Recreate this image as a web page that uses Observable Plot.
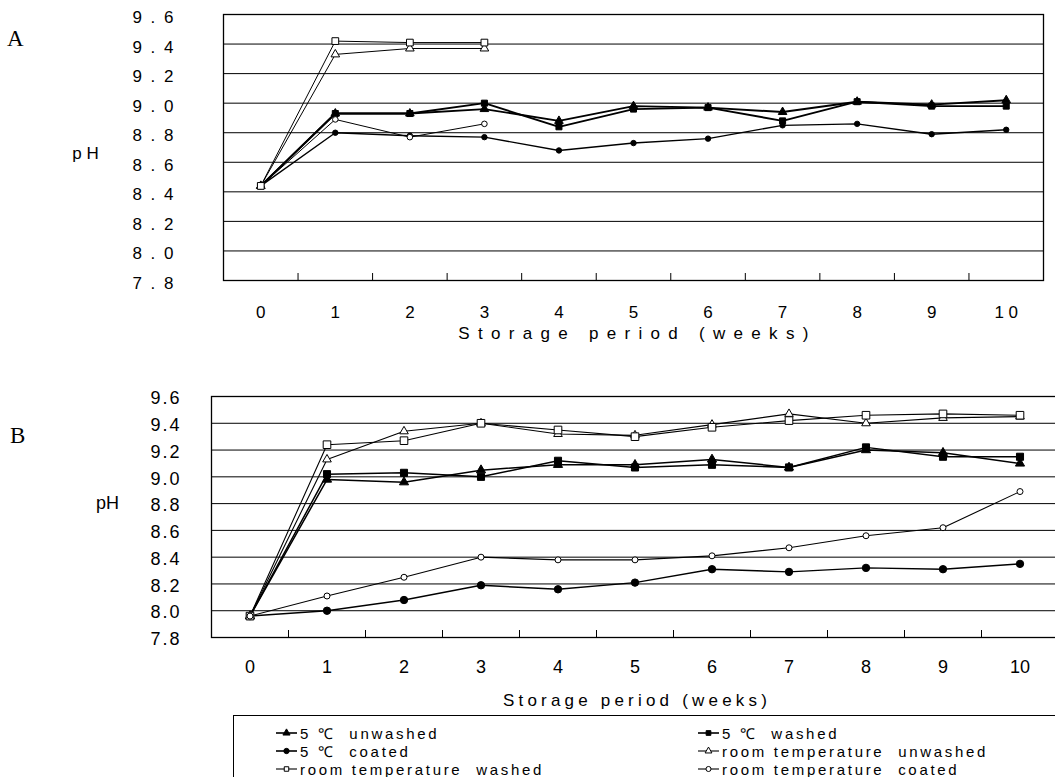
<!DOCTYPE html>
<html><head><meta charset="utf-8">
<script src="https://cdn.jsdelivr.net/npm/d3@7"></script>
<script src="https://cdn.jsdelivr.net/npm/@observablehq/plot@0.6"></script>
<style>
html,body{margin:0;padding:0;background:#fff;overflow:hidden;}
#root{position:relative;width:1055px;height:777px;overflow:hidden;font-family:"Liberation Sans",Arial,sans-serif;color:#000;}
.panel{position:absolute;left:0;max-width:none !important;}
.letter{position:absolute;font-family:"Liberation Serif","DejaVu Serif",serif;font-size:23px;line-height:1;}
#legend{position:absolute;left:233px;top:715px;width:830px;height:62px;border-top:1.5px solid #000;border-left:1px solid #000;}
.li{position:absolute;height:16px;display:flex;align-items:center;white-space:pre;font-size:15px;letter-spacing:2.7px;}
.li svg{margin-right:3px;}
</style></head><body><div id="root"></div>
<script>
// ---------- data ----------
const weeks = [0, 1, 2, 3, 4, 5, 6, 7, 8, 9, 10];
const yTicks = [9.6, 9.4, 9.2, 9.0, 8.8, 8.6, 8.4, 8.2, 8.0, 7.8];
const gridLevels = [9.4, 9.2, 9.0, 8.8, 8.6, 8.4, 8.2, 8.0];
const xTitle = "Storage period (weeks)";
const yTitleA = "p H";
const yTitleB = "pH";

// Panel A
const a5Unwashed = [8.44, 8.93, 8.93, 8.96, 8.88, 8.98, 8.97, 8.94, 9.01, 8.99, 9.02];
const a5Washed   = [8.44, 8.93, 8.93, 9.00, 8.84, 8.96, 8.97, 8.88, 9.01, 8.98, 8.98];
const a5Coated   = [8.44, 8.80, 8.78, 8.77, 8.68, 8.73, 8.76, 8.85, 8.86, 8.79, 8.82];
const aRTUnwashed = [8.44, 9.33, 9.37, 9.37];
const aRTWashed   = [8.44, 9.42, 9.41, 9.41];
const aRTCoated   = [8.44, 8.89, 8.77, 8.86];

// Panel B
const b5Unwashed = [7.96, 8.98, 8.96, 9.05, 9.09, 9.09, 9.13, 9.07, 9.20, 9.18, 9.10];
const b5Washed   = [7.96, 9.02, 9.03, 9.00, 9.12, 9.07, 9.09, 9.07, 9.22, 9.15, 9.15];
const b5Coated   = [7.96, 8.00, 8.08, 8.19, 8.16, 8.21, 8.31, 8.29, 8.32, 8.31, 8.35];
const bRTUnwashed = [7.96, 9.13, 9.34, 9.40, 9.32, 9.31, 9.39, 9.47, 9.40, 9.44, 9.45];
const bRTWashed   = [7.96, 9.24, 9.27, 9.40, 9.35, 9.30, 9.37, 9.42, 9.46, 9.47, 9.46];
const bRTCoated   = [7.96, 8.11, 8.25, 8.40, 8.38, 8.38, 8.41, 8.47, 8.56, 8.62, 8.89];

const seriesNames = ["5 ℃  unwashed", "5 ℃  washed", "5 ℃  coated",
  "room temperature  unwashed", "room temperature  washed", "room temperature  coated"];

// ---------- styles (not data) ----------
const styleOf = {
  "5 ℃  unwashed": {symbol: "triangle", filled: true},
  "5 ℃  washed": {symbol: "square", filled: true},
  "5 ℃  coated": {symbol: "circle", filled: true},
  "room temperature  unwashed": {symbol: "triangle", filled: false},
  "room temperature  washed": {symbol: "square", filled: false},
  "room temperature  coated": {symbol: "circle", filled: false}
};

function rows(arr, name) { return arr.map((v, i) => ({week: weeks[i], pH: v, series: name})); }
const boundaries = weeks.slice(1).map(w => w - 0.5);

const dataA = [a5Unwashed, a5Washed, a5Coated, aRTUnwashed, aRTWashed, aRTCoated];
const dataB = [b5Unwashed, b5Washed, b5Coated, bRTUnwashed, bRTWashed, bRTCoated];

function makePanel(cfg) {
  const frameH = cfg.height - cfg.marginTop - cfg.marginBottom;
  const marks = [
    Plot.ruleY(gridLevels, {stroke: "#000", strokeWidth: 1}),
    Plot.frame({stroke: "#000", strokeWidth: 1.3}),
    Plot.ruleX(boundaries, {stroke: "#000", strokeWidth: 1, insetTop: frameH - 7}),
    Plot.axisY({ticks: yTicks, tickSize: 0, tickPadding: cfg.yPad, dy: cfg.yDy,
      tickFormat: cfg.yFormat, fontSize: cfg.yFont}),
    Plot.axisX({ticks: weeks, tickSize: 0, tickPadding: cfg.xPad,
      tickFormat: cfg.xFormat, fontSize: cfg.xFont}),
    Plot.text([xTitle], {text: d => d, frameAnchor: "bottom", lineAnchor: "middle", textAnchor: "middle",
      dy: cfg.titleDy, dx: cfg.titleDx, fontSize: cfg.titleFont}),
    Plot.text([cfg.yTitle], {text: d => d, frameAnchor: "left", lineAnchor: "middle", textAnchor: "middle",
      dx: cfg.pHdx, dy: cfg.pHdy, fontSize: cfg.pHFont})
  ];
  cfg.data.forEach((arr, i) => {
    const name = seriesNames[i];
    marks.push(Plot.line(rows(arr, name), {x: "week", y: "pH", stroke: "#000",
      strokeWidth: cfg.lineW[i], curve: "linear"}));
  });
  cfg.order.forEach(i => {
    const arr = cfg.data[i];
    const name = seriesNames[i];
    const st = styleOf[name];
    marks.push(Plot.dot(rows(arr, name), {x: "week", y: "pH", symbol: st.symbol,
      r: cfg.r[i], fill: st.filled ? "#000" : "#fff", stroke: "#000", strokeWidth: 1}));
  });
  const svg = Plot.plot({
    width: cfg.width, height: cfg.height,
    marginTop: cfg.marginTop, marginBottom: cfg.marginBottom,
    marginLeft: cfg.marginLeft, marginRight: cfg.marginRight,
    x: {domain: [-0.5, 10.5], label: null},
    y: {domain: [7.8, 9.6], label: null},
    style: {fontFamily: '"Liberation Sans", Arial, sans-serif', background: "transparent", color: "#000", overflow: "visible", maxWidth: "none"},
    marks
  });
  d3.select(svg).selectAll('g[aria-label="y-axis tick label"] text').style("letter-spacing", cfg.ySpacing + "px");
  d3.select(svg).selectAll("text").filter(function () { return this.textContent === xTitle; })
    .style("letter-spacing", cfg.titleSpacing + "px");
  return svg;
}

const root = document.getElementById("root");

const svgA = makePanel({
  data: dataA, width: 1055, height: 350, marginTop: 14, marginBottom: 70, marginLeft: 223, marginRight: 12,
  yPad: 48, yDy: 3, yFont: 17, ySpacing: 2, yFormat: d => d.toFixed(1).split("").join(" "),
  xPad: 25, xFont: 17, xFormat: d => String(d).split("").join(" "),
  titleDy: 53, titleDx: 4, titleFont: 17, titleSpacing: 8.3,
  yTitle: yTitleA, pHdx: -138, pHdy: 6, pHFont: 17,
  lineW: [1.9, 1.9, 1.4, 1, 1, 1],
  r: [3.2, 3.4, 2.7, 3.2, 3.8, 2.8],
  order: [0, 1, 2, 3, 5, 4]
});
svgA.classList.add("panel"); svgA.style.top = "0px";
root.appendChild(svgA);

const svgB = makePanel({
  data: dataB, width: 1060, height: 365, marginTop: 46, marginBottom: 78, marginLeft: 211, marginRight: 2,
  yPad: 30, yDy: 2, yFont: 18, ySpacing: 2, yFormat: d => d.toFixed(1),
  xPad: 23, xFont: 18, xFormat: d => String(d),
  titleDy: 63, titleDx: 2, titleFont: 17, titleSpacing: 4.2,
  yTitle: yTitleB, pHdx: -104, pHdy: -14, pHFont: 18,
  lineW: [1.5, 1.5, 1.4, 1.1, 1.1, 1.1],
  r: [3.4, 4, 3.7, 3.2, 4.3, 3],
  order: [0, 1, 2, 3, 4, 5]
});
svgB.classList.add("panel"); svgB.style.top = "350px";
root.appendChild(svgB);

// panel letters
[["A", 7, 27], ["B", 10, 424]].forEach(([t, x, y]) => {
  const d = document.createElement("div");
  d.className = "letter"; d.textContent = t;
  d.style.left = x + "px"; d.style.top = y + "px";
  root.appendChild(d);
});

// legend
const legend = document.createElement("div");
legend.id = "legend";
root.appendChild(legend);
const legendOrder = [
  [seriesNames[0], 0, 0], [seriesNames[1], 1, 0],
  [seriesNames[2], 0, 1], [seriesNames[3], 1, 1],
  [seriesNames[4], 0, 2], [seriesNames[5], 1, 2]
];
const colX = [275 - 233, 697 - 233];
const rowY = [732 - 715, 750 - 715, 768 - 715];
legendOrder.forEach(([name, c, r]) => {
  const st = styleOf[name];
  const item = document.createElement("div");
  item.className = "li";
  item.style.left = colX[c] + "px";
  item.style.top = (rowY[r] - 8) + "px";
  const sym = d3.create("svg").attr("width", 21).attr("height", 12);
  sym.append("line").attr("x1", 0).attr("x2", 21).attr("y1", 6).attr("y2", 6)
    .attr("stroke", "#000").attr("stroke-width", st.filled ? 1.6 : 1.1);
  sym.append("path").attr("transform", "translate(10.5,6)")
    .attr("d", d3.symbol(st.symbol === "triangle" ? d3.symbolTriangle : st.symbol === "square" ? d3.symbolSquare : d3.symbolCircle, st.filled ? 22 : 20)())
    .attr("fill", st.filled ? "#000" : "#fff").attr("stroke", "#000").attr("stroke-width", 1);
  item.appendChild(sym.node());
  const span = document.createElement("span");
  span.textContent = name;
  item.appendChild(span);
  legend.appendChild(item);
});
</script>
</body></html>
